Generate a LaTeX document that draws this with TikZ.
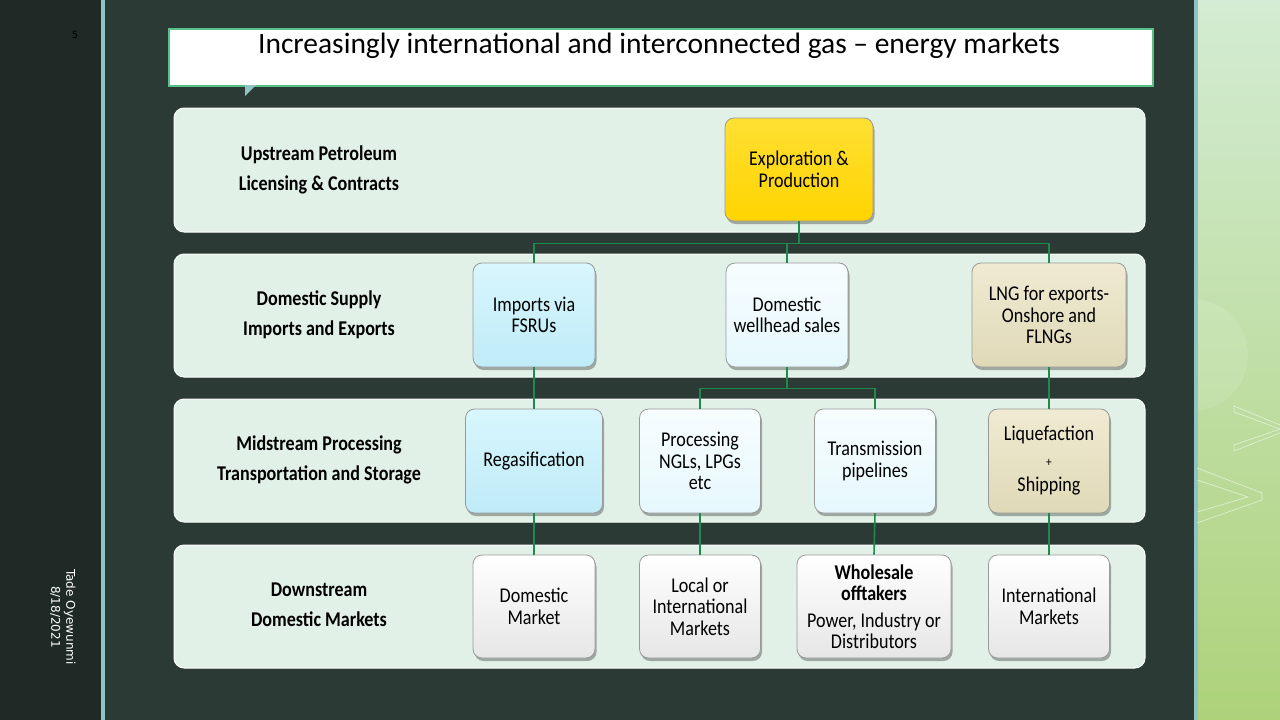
\documentclass[tikz,border=0pt]{standalone}
\usepackage{fontspec}
\setmainfont{Carlito}
\newfontfamily\boxfont[FakeStretch=0.86]{Carlito}
\newfontfamily\dvfont{DejaVu Sans}
\usetikzlibrary{shadows,calc}
\definecolor{leftbg}{HTML}{1F2A27}
\definecolor{mainbg}{HTML}{2C3A35}
\definecolor{edgeline}{HTML}{8EC4C4}
\definecolor{bandfill}{HTML}{E2F1E8}
\definecolor{conn}{HTML}{1E8A4C}
\definecolor{titleborder}{HTML}{5AC08A}
\definecolor{panelTop}{HTML}{D3ECD3}
\definecolor{panelBot}{HTML}{ADD27A}
\definecolor{yelTop}{HTML}{FFE033}
\definecolor{yelBot}{HTML}{FFD400}
\definecolor{bluTop}{HTML}{D8F6FD}
\definecolor{bluBot}{HTML}{BFEBF8}
\definecolor{palTop}{HTML}{F7FDFF}
\definecolor{palBot}{HTML}{E6F8FE}
\definecolor{begTop}{HTML}{EFEAD2}
\definecolor{begBot}{HTML}{E0D9B8}
\definecolor{gryTop}{HTML}{FFFFFF}
\definecolor{gryBot}{HTML}{E6E6E6}
\tikzset{
  band/.style={fill=bandfill, draw=white!85!bandfill, line width=1pt, rounded corners=10pt},
  box/.style={draw=gray!80, line width=0.8pt, rounded corners=9pt, align=center,
     font=\boxfont\fontsize{21}{21.5}\selectfont, text=black, inner sep=2pt,
     drop shadow={shadow xshift=1.5pt, shadow yshift=-3pt, opacity=0.3, fill=black}},
  yelbox/.style={box, top color=yelTop, bottom color=yelBot},
  blubox/.style={box, top color=bluTop, bottom color=bluBot},
  palbox/.style={box, top color=palTop, bottom color=palBot},
  begbox/.style={box, top color=begTop, bottom color=begBot},
  grybox/.style={box, top color=gryTop, bottom color=gryBot},
  rowlabel/.style={align=center, font=\boxfont\bfseries\fontsize{21}{30}\selectfont, text=black},
  link/.style={draw=conn, line width=1.6pt},
  deco/.style={draw=white, opacity=0.55, line width=0.7pt},
}
\begin{document}
\begin{tikzpicture}[x=1pt,y=-1pt]
\useasboundingbox (0,0) rectangle (1280,720);
% backgrounds
\fill[leftbg] (0,0) rectangle (101,720);
\fill[mainbg] (101,0) rectangle (1195,720);
\fill[edgeline] (101,0) rectangle (104.5,720);
\shade[top color=panelTop, bottom color=panelBot] (1197,0) rectangle (1280,720);
\begin{scope}
  \clip (1197,0) rectangle (1280,720);
  \fill[white, opacity=0.1] (1192,355) circle[radius=56];
\end{scope}
\fill[edgeline] (1194,0) rectangle (1197.5,720);
\draw[deco] (1234,406) -- (1290,429) -- (1234,451) -- (1234,445) -- (1280,429) -- (1234,412) -- cycle;
\draw[deco] (1197,468) -- (1262,493) -- (1262,500) -- (1197,523);
\draw[deco] (1197,480) -- (1248,497) -- (1197,512);
% slide number and footer
\node[font=\dvfont\fontsize{10}{11}\selectfont, text=black] (num) at (75,35) {5};
\node[rotate=-90, font=\dvfont\fontsize{12}{15}\selectfont, text=white, align=center] (foot) at (63,617) {Tade Oyewunmi\\8/18/2021};
% title
\node[draw=titleborder, line width=2pt, fill=white, minimum width=984, minimum height=57, anchor=north west, inner sep=0pt] (title) at (168,28) {};
\node[font=\fontsize{29.5}{32}\selectfont, text=black] (titletext) at (659,46) {Increasingly international and interconnected gas -- energy markets};
\fill[edgeline] (245,85) -- (256,85) -- (245,96) -- cycle;
% bands
\path[band] (174,108) rectangle (1145,232);
\path[band] (174,254) rectangle (1145,377);
\path[band] (174,399) rectangle (1145,522);
\path[band] (174,545) rectangle (1145,668);
% row labels
\node[rowlabel] (l1) at (319,170) {Upstream Petroleum\\Licensing \& Contracts};
\node[rowlabel] (l2) at (319,315) {Domestic Supply\\Imports and Exports};
\node[rowlabel] (l3) at (319,460) {Midstream Processing\\Transportation and Storage};
\node[rowlabel] (l4) at (319,605) {Downstream\\Domestic Markets};
% row 1
\node[yelbox, minimum width=148, minimum height=103] (ep) at (799,169.5) {Exploration \&\\Production};
% row 2
\node[blubox, minimum width=122, minimum height=104] (fsru) at (534,315) {Imports via\\FSRUs};
\node[palbox, minimum width=122, minimum height=104] (well) at (787,315) {Domestic\\wellhead sales};
\node[begbox, minimum width=154, minimum height=104] (lng) at (1049,315) {LNG for exports-\\Onshore and\\FLNGs};
% row 3
\node[blubox, minimum width=137, minimum height=104] (regas) at (534,461) {Regasification};
\node[palbox, minimum width=121, minimum height=104] (proc) at (700,461) {Processing\\NGLs, LPGs\\etc};
\node[palbox, minimum width=121, minimum height=104] (trans) at (875,461) {Transmission\\pipelines};
\node[begbox, minimum width=121, minimum height=104] (liq) at (1049,461) {Liquefaction\\[4pt]{\fontsize{13}{14}\selectfont +}\\[4pt]Shipping};
% row 4
\node[grybox, minimum width=122, minimum height=103] (dom) at (534,606.5) {Domestic\\Market};
\node[grybox, minimum width=121, minimum height=103] (local) at (700,606.5) {Local or\\International\\Markets};
\node[grybox, minimum width=154, minimum height=103] (whole) at (874,606.5) {\textbf{Wholesale}\\\textbf{offtakers}\\[5pt]Power, Industry or\\Distributors};
\node[grybox, minimum width=121, minimum height=103] (intl) at (1049,606.5) {International\\Markets};
% connectors
\coordinate (b1) at ($(ep.south)+(0,22)$);
\draw[link] (ep.south) -- (b1);
\draw[link] (b1) -| (fsru.north);
\draw[link] (b1) -| (lng.north);
\draw[link] (b1 -| well.north) -- (well.north);
\draw[link] (fsru.south) -- (regas.north);
\coordinate (b2) at ($(well.south)+(0,21)$);
\draw[link] (well.south) -- (b2);
\draw[link] (b2) -| (proc.north);
\draw[link] (b2) -| (trans.north);
\draw[link] (lng.south) -- (liq.north);
\draw[link] (regas.south) -- (dom.north);
\draw[link] (proc.south) -- (local.north);
\draw[link] (trans.south) -- (whole.north);
\draw[link] (liq.south) -- (intl.north);
\end{tikzpicture}
\end{document}
